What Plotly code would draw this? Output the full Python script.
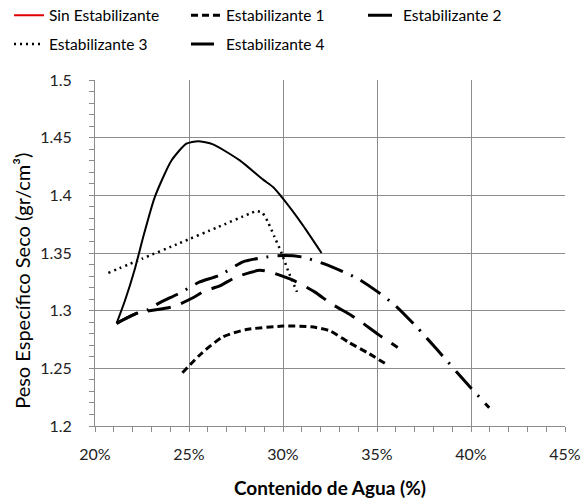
import plotly.graph_objects as go

# Data (water content in %, dry unit weight in gr/cm3)
sin_x = [21.15, 21.6, 22.1, 22.6, 23.18, 24.06, 24.86, 25.48, 26.28, 27.7, 28.94, 29.47, 30.0, 31.06, 32.05]
sin_y = [1.289, 1.309, 1.335, 1.366, 1.3985, 1.430, 1.4448, 1.447, 1.4442, 1.4303, 1.4136, 1.4072, 1.3971, 1.374, 1.350]

e1_x = [24.65, 25.7, 26.8, 28.0, 30.0, 31.5, 32.5, 33.5, 34.5, 35.48]
e1_y = [1.2462, 1.2635, 1.2773, 1.2835, 1.2866, 1.286, 1.2825, 1.2725, 1.2635, 1.2537]

e2_x = [21.15, 22.21, 22.83, 23.38, 24.53, 25.57, 26.63, 27.87, 29.1, 30.0, 31.0, 32.2, 33.97, 35.04, 36.01, 37.1, 38.17, 39.82, 40.97]
e2_y = [1.289, 1.2976, 1.301, 1.3063, 1.3155, 1.3249, 1.3307, 1.3423, 1.3465, 1.3478, 1.3466, 1.3405, 1.3279, 1.3163, 1.3039, 1.2860, 1.2667, 1.2361, 1.2158]

e3_x = [20.71, 22.5, 24.5, 26.5, 28.2, 28.6, 28.9, 29.2, 29.55, 29.9, 30.26, 30.74]
e3_y = [1.3327, 1.3450, 1.3586, 1.3722, 1.3840, 1.3864, 1.3850, 1.3769, 1.3639, 1.3509, 1.3350, 1.3163]

e4_x = [21.15, 22.21, 24.2, 25.21, 25.84, 26.63, 27.52, 28.76, 29.3, 30.53, 31.68, 32.55, 33.62, 34.15, 35.12, 36.1]
e4_y = [1.289, 1.2976, 1.3037, 1.3112, 1.3171, 1.3214, 1.3293, 1.335, 1.3336, 1.3264, 1.3163, 1.3062, 1.2961, 1.2903, 1.2788, 1.2681]

x_ticks = [20, 25, 30, 35, 40, 45]
x_labels = ["20%", "25%", "30%", "35%", "40%", "45%"]
y_ticks = [1.2, 1.25, 1.3, 1.35, 1.4, 1.45, 1.5]
y_labels = ["1.2", "1.25", "1.3", "1.35", "1.4", "1.45", "1.5"]

FONT = "Lato"
GRID = "#8c8c8c"

fig = go.Figure()

# Actual "Sin Estabilizante" curve (black), legend entry drawn separately in red
fig.add_trace(go.Scatter(x=sin_x, y=sin_y, mode="lines", showlegend=False,
                         line=dict(color="black", width=2, shape="spline", smoothing=0.6)))
fig.add_trace(go.Scatter(x=[None], y=[None], mode="lines", name="Sin Estabilizante",
                         legend="legend", line=dict(color="#e00000", width=2)))
fig.add_trace(go.Scatter(x=e1_x, y=e1_y, mode="lines", name="Estabilizante 1", legend="legend",
                         line=dict(color="black", width=3, dash="7px,4px", shape="spline", smoothing=0.6)))
fig.add_trace(go.Scatter(x=e2_x, y=e2_y, mode="lines", name="Estabilizante 2", legend="legend",
                         line=dict(color="black", width=3, dash="24px,9px,2px,9px", shape="spline", smoothing=0.6)))
fig.add_trace(go.Scatter(x=e3_x, y=e3_y, mode="lines", name="Estabilizante 3", legend="legend2",
                         line=dict(color="black", width=2.5, dash="2px,4px", shape="spline", smoothing=0.4)))
fig.add_trace(go.Scatter(x=e4_x, y=e4_y, mode="lines", name="Estabilizante 4", legend="legend2",
                         line=dict(color="black", width=3, dash="23px,11px", shape="spline", smoothing=0.6)))

legend_common = dict(orientation="h", xanchor="left", yanchor="top", entrywidth=132,
                      entrywidthmode="pixels", font=dict(family=FONT, size=15.5, color="black"),
                      bgcolor="rgba(0,0,0,0)", traceorder="normal")

fig.update_layout(
    width=581, height=502,
    margin=dict(l=95, r=16, t=80, b=76, autoexpand=False),
    paper_bgcolor="white", plot_bgcolor="white",
    font=dict(family=FONT, color="#222"),
    legend=dict(x=-0.183, y=1.2353, **legend_common),
    legend2=dict(x=-0.183, y=1.1516, **legend_common),
    xaxis=dict(
        range=[20, 45], tickvals=x_ticks, ticktext=x_labels,
        showgrid=True, gridcolor=GRID, gridwidth=1,
        showline=True, linecolor=GRID, linewidth=1, mirror=False,
        ticks="outside", ticklen=5, tickcolor=GRID, tickwidth=1,
        minor=dict(dtick=1, ticks="outside", ticklen=5, tickcolor=GRID, showgrid=False),
        tickfont=dict(family=FONT, size=16, color="#222"),
        ticklabelstandoff=9, automargin=False,
        title=dict(text="<b>Contenido de Agua (%)</b>", font=dict(family=FONT, size=19, color="black"), standoff=19),
        zeroline=False,
    ),
    yaxis=dict(
        range=[1.2, 1.5], tickvals=y_ticks, ticktext=y_labels,
        showgrid=True, gridcolor=GRID, gridwidth=1,
        showline=True, linecolor=GRID, linewidth=1,
        ticks="outside", ticklen=5, tickcolor=GRID, tickwidth=1,
        minor=dict(dtick=0.01, ticks="outside", ticklen=5, tickcolor=GRID, showgrid=False),
        tickfont=dict(family=FONT, size=16, color="#222"),
        ticklabelstandoff=14, automargin=False,
        zeroline=False,
    ),
    annotations=[dict(
        text="Peso Específico Seco (gr/cm³)", textangle=-90,
        xref="paper", yref="paper", x=-0.155, y=0.42,
        xanchor="center", yanchor="middle", showarrow=False,
        font=dict(family=FONT, size=20, color="black"),
    )],
)

fig.write_html("out.html")
